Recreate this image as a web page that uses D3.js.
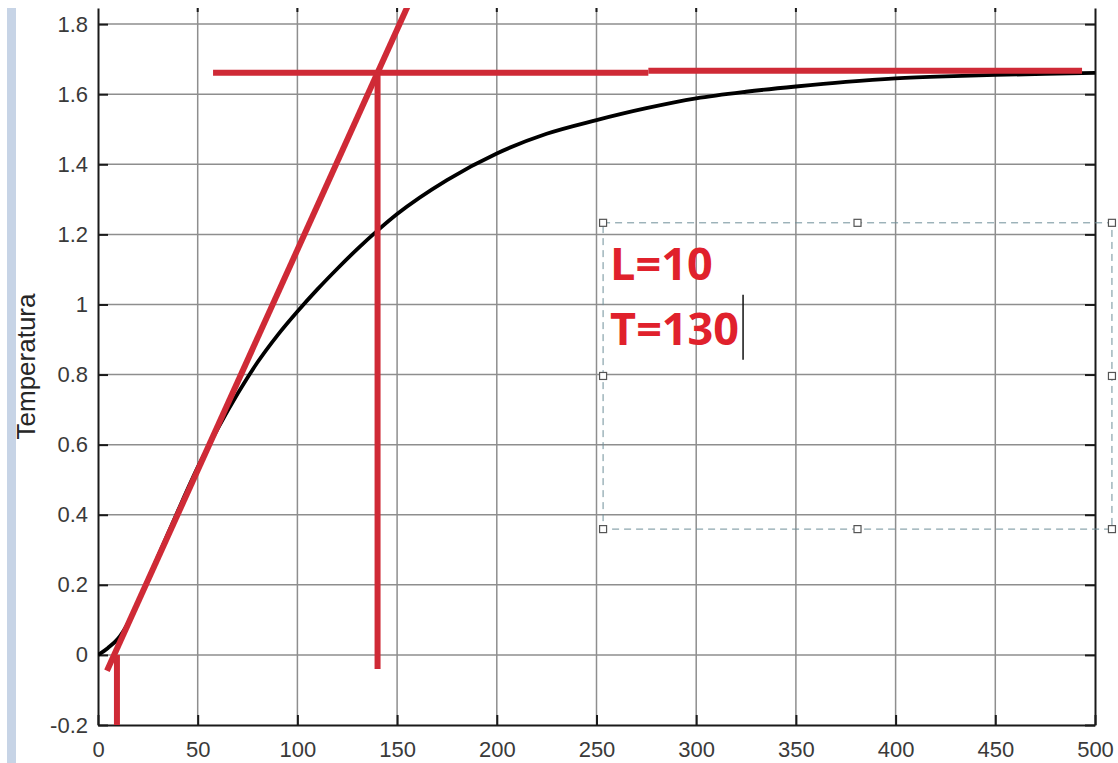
<!DOCTYPE html>
<meta charset="utf-8">
<style>
    body { margin: 0; background: #fff; }
    svg { display: block; }
    .tick text { font-family: "Liberation Sans", Arial, sans-serif; font-size: 22px; fill: #3a3a3a; }
    .axis path, .axis line { stroke: #1a1a1a; stroke-width: 2; }
    .grid line { stroke: #8e8e8e; stroke-width: 1.5; }
    .ylabel { font-family: "Liberation Sans", Arial, sans-serif; font-size: 26px; fill: #262626; }
    .curve { fill: none; stroke: #000; stroke-width: 3.8; stroke-linejoin: round; }
    .redline { fill: none; stroke: #cf2a36; stroke-width: 6; }
    .note { font-family: "Open Sans", sans-serif; font-weight: 700; font-size: 45px; fill: #e0212c; }
    .box { fill: none; stroke: #6f8f99; stroke-width: 1; stroke-dasharray: 7, 5; }
    .handle { fill: #fff; stroke: #555; stroke-width: 1.2; }
</style>
<body>
<script src="https://cdnjs.cloudflare.com/ajax/libs/d3/7.8.5/d3.min.js"></script>
<script>

    // step response (time, temperature)
    var timeVals = [0, 5, 10, 15, 20, 25, 30, 40, 50, 60, 70, 80, 90, 100, 110, 120, 130, 140, 150,
                    175, 200, 225, 250, 275, 300, 325, 350, 375, 400, 425, 450, 475, 500];
    var tempVals = [0, 0.02, 0.046, 0.09, 0.15, 0.215, 0.28, 0.41, 0.535, 0.645, 0.745, 0.835, 0.912,
                    0.98, 1.043, 1.102, 1.158, 1.21, 1.258, 1.355, 1.431, 1.487, 1.526, 1.56, 1.588,
                    1.607, 1.622, 1.635, 1.645, 1.651, 1.655, 1.658, 1.661];

    var xTicks = [0, 50, 100, 150, 200, 250, 300, 350, 400, 450, 500];
    var yTicks = [-0.2, 0, 0.2, 0.4, 0.6, 0.8, 1, 1.2, 1.4, 1.6, 1.8];
    var yLabel = "Temperatura";

    // hand drawn construction lines (data coords)
    var tangentLine = [[4.5, -0.045], [156, 1.86]];
    var steadyLeft = [[57.7, 1.661], [276, 1.661]];
    var steadyRight = [[276, 1.667], [493.5, 1.667]];
    var tLine = [[140.2, 1.661], [140.2, -0.04]];
    var lLine = [[9.5, 0.0], [9.5, -0.2]];

    // text box annotation
    var noteLines = ["L=10", "T=130"];
    var boxX = [253.3, 508.5];
    var boxY = [1.233, 0.359];

    var W = 1118, H = 763;
    var margin = {top: 8, left: 98, right: 23, bottom: 38};

    var x = d3.scaleLinear().domain([0, 500]).range([margin.left, W - margin.right]);
    var y = d3.scaleLinear().domain([-0.2, 1.846]).range([H - margin.bottom, margin.top]);

    var svg = d3.select("body").append("svg")
            .attr("width", W)
            .attr("height", H);

    // left side band of the window
    svg.append("rect")
            .attr("x", 7).attr("y", margin.top)
            .attr("width", 9).attr("height", H - margin.top)
            .attr("fill", "#c7d4e6");

    svg.append("defs").append("clipPath")
            .attr("id", "plotClip")
        .append("rect")
            .attr("x", x(0)).attr("y", y.range()[1])
            .attr("width", x(500) - x(0))
            .attr("height", y.range()[0] - y.range()[1]);

    // grid
    var grid = svg.append("g").attr("class", "grid");
    grid.selectAll("line.v").data(xTicks.slice(1, -1)).enter().append("line")
            .attr("x1", d => x(d)).attr("x2", d => x(d))
            .attr("y1", y.range()[1]).attr("y2", y.range()[0]);
    grid.selectAll("line.h").data(yTicks.slice(1)).enter().append("line")
            .attr("x1", x.range()[0]).attr("x2", x.range()[1])
            .attr("y1", d => y(d)).attr("y2", d => y(d));

    // top ticks (top edge of axes is cut off)
    svg.append("g").selectAll("line").data(xTicks.slice(1, -1)).enter().append("line")
            .attr("x1", d => x(d)).attr("x2", d => x(d))
            .attr("y1", y.range()[1]).attr("y2", y.range()[1] + 4)
            .attr("stroke", "#1a1a1a").attr("stroke-width", 2);

    // axes, MATLAB style ticks inside
    svg.append("g")
            .attr("class", "x axis")
            .attr("transform", "translate(0," + y(-0.2) + ")")
            .call(d3.axisBottom(x).tickValues(xTicks).tickSizeInner(-10).tickSizeOuter(0).tickPadding(16));

    svg.append("g")
            .attr("class", "y axis")
            .attr("transform", "translate(" + x(0) + ",0)")
            .call(d3.axisLeft(y).tickValues(yTicks).tickSizeInner(-10).tickSizeOuter(0).tickPadding(10)
                .tickFormat(d => String(d)));

    svg.append("g")
            .attr("class", "y axis")
            .attr("transform", "translate(" + x(500) + ",0)")
            .call(d3.axisRight(y).tickValues(yTicks).tickSizeInner(-10).tickSizeOuter(0).tickFormat(""));

    svg.append("text")
            .attr("class", "ylabel")
            .attr("transform", "translate(35," + ((y.range()[0] + y.range()[1]) / 2) + ") rotate(-90)")
            .attr("text-anchor", "middle")
            .text(yLabel);

    var line = d3.line().x(d => x(d[0])).y(d => y(d[1]));

    var plot = svg.append("g").attr("clip-path", "url(#plotClip)");

    plot.append("path")
            .attr("class", "curve")
            .datum(d3.zip(timeVals, tempVals))
            .attr("d", d3.line().curve(d3.curveMonotoneX).x(d => x(d[0])).y(d => y(d[1])));

    [tangentLine, steadyLeft, steadyRight, tLine, lLine].forEach(function(seg) {
        plot.append("path")
                .attr("class", "redline")
                .datum(seg)
                .attr("d", line);
    });

    // text box
    var bx0 = x(boxX[0]), bx1 = x(boxX[1]), by0 = y(boxY[0]), by1 = y(boxY[1]);
    svg.append("rect")
            .attr("class", "box")
            .attr("x", bx0).attr("y", by0)
            .attr("width", bx1 - bx0).attr("height", by1 - by0);

    var handles = [[bx0, by0], [(bx0 + bx1) / 2, by0], [bx1, by0],
                   [bx0, (by0 + by1) / 2], [bx1, (by0 + by1) / 2],
                   [bx0, by1], [(bx0 + bx1) / 2, by1], [bx1, by1]];
    svg.selectAll("rect.handle").data(handles).enter().append("rect")
            .attr("class", "handle")
            .attr("x", d => d[0] - 3.5).attr("y", d => d[1] - 3.5)
            .attr("width", 7).attr("height", 7);

    var notes = svg.selectAll("text.note").data(noteLines).enter().append("text")
            .attr("class", "note")
            .attr("x", bx0 + 7)
            .attr("y", (d, i) => by0 + 57 + i * 65)
            .text(d => d);

    // text cursor after the last line
    var lastBox = notes.nodes()[noteLines.length - 1].getBBox();
    svg.append("line")
            .attr("x1", lastBox.x + lastBox.width + 4).attr("x2", lastBox.x + lastBox.width + 4)
            .attr("y1", by0 + 72).attr("y2", by0 + 137)
            .attr("stroke", "#111").attr("stroke-width", 1.5);

</script>
</body>
